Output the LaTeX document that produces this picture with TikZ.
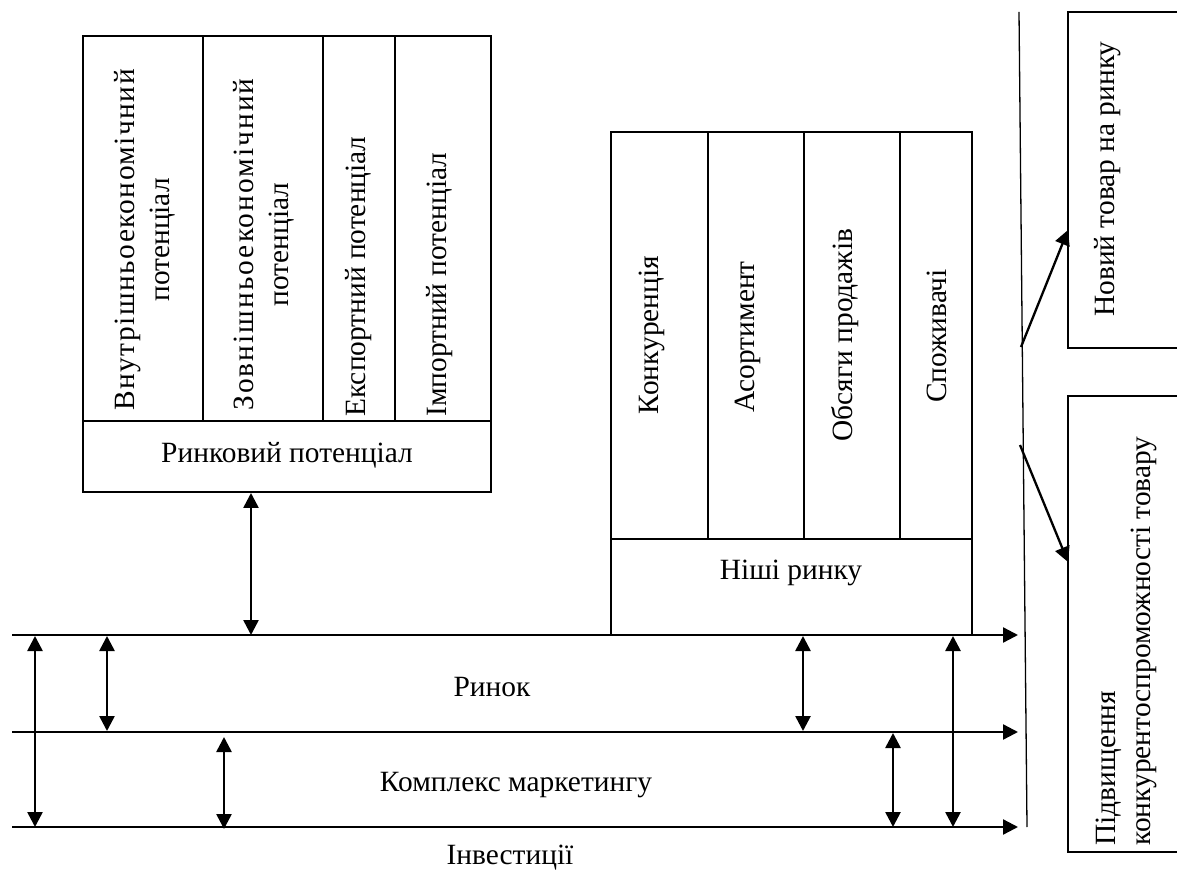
\documentclass[tikz,border=0pt]{standalone}
\usepackage{fontspec}
\setmainfont{Liberation Serif}
\usetikzlibrary{arrows.meta}
\usetikzlibrary{positioning}

\newcommand{\wide}[2]{{\addfontfeature{LetterSpace=#1}#2}}

\tikzset{
	box/.style={line width=1pt},
	level/.style={line width=1.15pt, -{Triangle[width=7.5pt,length=7.5pt]}},
	twoway/.style={line width=1.3pt, {Triangle[width=7.5pt,length=7.5pt]}-{Triangle[width=7.5pt,length=7.5pt]}},
	lbl/.style={inner sep=0pt, font=\fontsize{14.7}{17.5}\selectfont},
	vlbl/.style={lbl, rotate=90, align=center},
}

\begin{document}
\begin{tikzpicture}[x=0.5pt, y=-0.5pt]
			\useasboundingbox (0,0) rectangle (1177,881);

			% ринковий потенціал
			\draw[box] (83,36) rectangle (491,492);
			\draw[box] (83,421) -- (491,421);
			\draw[box] (203,36) -- (203,421);
			\draw[box] (323,36) -- (323,421);
			\draw[box] (395,36) -- (395,421);
			\node[vlbl, anchor=west] (vnutr) at (145,411) {\wide{5}{Внутрішньоекономічний}\\потенціал};
			\node[vlbl, anchor=west] (zovn) at (264,411) {\wide{7}{Зовнішньоекономічний}\\потенціал};
			\node[vlbl, anchor=west] (eksp) at (359,417) {Експортний потенціал};
			\node[vlbl, anchor=west] (imp) at (440,417) {Імпортний потенціал};
			\node[lbl] (rpot) at (287,455) {Ринковий потенціал};

			% ніші ринку
			\draw[box] (611,132) rectangle (972,635);
			\draw[box] (611,539) -- (972,539);
			\draw[box] (708,132) -- (708,539);
			\draw[box] (804,132) -- (804,539);
			\draw[box] (900,132) -- (900,539);
			\node[vlbl] (konk) at (652,335) {Конкуренція};
			\node[vlbl] (asort) at (748,337) {Асортимент};
			\node[vlbl] (obs) at (845,335) {Обсяги продажів};
			\node[vlbl] (spoz) at (937,336) {Споживачі};
			\node[lbl] (nishi) at (791,573) {Ніші ринку};

			% рівні
			\coordinate (l1) at (12,635);
			\coordinate (l2) at (12,732);
			\coordinate (l3) at (12,827);
			\draw[level] (l1) -- (1018,635);
			\draw[level] (l2) -- (1018,732);
			\draw[level] (l3) -- (1018,827);
			\node[lbl] (rynok) at (492,687) {Ринок};
			\node[lbl] (kompl) at (516,785) {Комплекс маркетингу};
			\node[lbl] (invest) at (510,858) {Інвестиції};

			\draw[twoway] (251,493) -- (251,635);
			\draw[twoway] (35,636) -- (35,827);
			\draw[twoway] (107,636) -- (107,731);
			\draw[twoway] (224,737) -- (224,829);
			\draw[twoway] (803,636) -- (803,731);
			\draw[twoway] (893,733) -- (893,827);
			\draw[twoway] (953,636) -- (953,827);

			% результат
			\coordinate (top) at (1019,12);
			\coordinate (bot) at (1027,827);
			\draw[line width=0.65pt] (top) -- (bot);
			\draw[box] (1177,12) -| (1068,348) -- (1177,348);
			\draw[box] (1177,396) -| (1068,852) -- (1177,852);
			\node[vlbl] (novyi) at (1108,179) {Новий товар на ринку};
			\node[vlbl, align=left, anchor=west] (pidv) at (1126,846) {Підвищення\\конкурентоспроможності товару};
			\coordinate (n1) at (1068,230);
			\coordinate (n2) at (1068,562);
			\draw[level] (1021,347) -- (n1);
			\draw[level] (1020,445) -- (n2);
\end{tikzpicture}
\end{document}
